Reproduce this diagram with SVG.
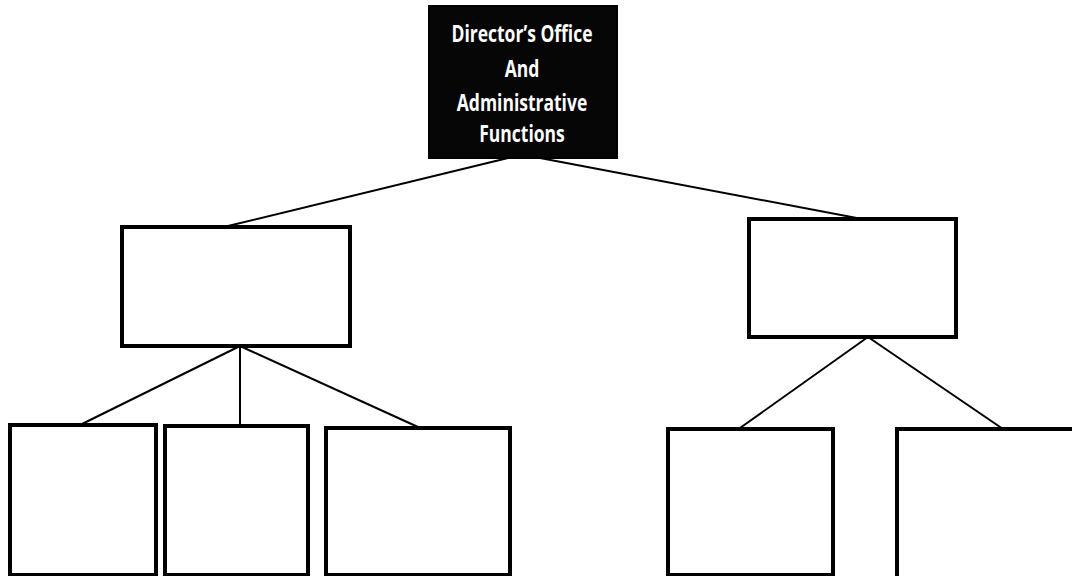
<svg xmlns="http://www.w3.org/2000/svg" width="1072" height="576" viewBox="0 0 1072 576">
<style>
.box{fill:#ffffff;stroke:#000;stroke-width:4}
.top{fill:#060606;stroke:#000;stroke-width:2}
.conn line{stroke:#000;stroke-width:2}
.lbl{font-family:"Open Sans","Noto Sans",sans-serif;font-weight:bold;font-size:17.5px;fill:#fff;text-anchor:middle}
</style>
<rect width="1072" height="576" fill="#fff"/>
<g id="connectors" class="conn">
<line x1="508" y1="158" x2="228" y2="226"/>
<line x1="540" y1="158" x2="862" y2="219"/>
<line x1="240" y1="346" x2="80" y2="425"/>
<line x1="240" y1="346" x2="240" y2="425"/>
<line x1="240" y1="346" x2="418" y2="427"/>
<line x1="868" y1="337" x2="740" y2="428"/>
<line x1="868" y1="337" x2="1003" y2="429"/>
</g>
<g id="director">
<rect class="top" x="429" y="6" width="188" height="152"/>
<text class="lbl" transform="translate(522,42) scale(1,1.3)">Director’s Office</text>
<text class="lbl" transform="translate(522,77) scale(1,1.3)">And</text>
<text class="lbl" transform="translate(522,111) scale(1,1.3)">Administrative</text>
<text class="lbl" transform="translate(522,142) scale(1,1.3)">Functions</text>
</g>
<g id="mid-left"><rect class="box" x="122" y="227" width="228" height="119"/></g>
<g id="mid-right"><rect class="box" x="749" y="219" width="207" height="118"/></g>
<g id="child-1"><rect class="box" x="10" y="425" width="146" height="150"/></g>
<g id="child-2"><rect class="box" x="165" y="426" width="143" height="149"/></g>
<g id="child-3"><rect class="box" x="326" y="428" width="184" height="147"/></g>
<g id="child-4"><rect class="box" x="668" y="429" width="165" height="146"/></g>
<g id="child-5"><rect class="box" x="897" y="429" width="180" height="150"/></g>
</svg>
